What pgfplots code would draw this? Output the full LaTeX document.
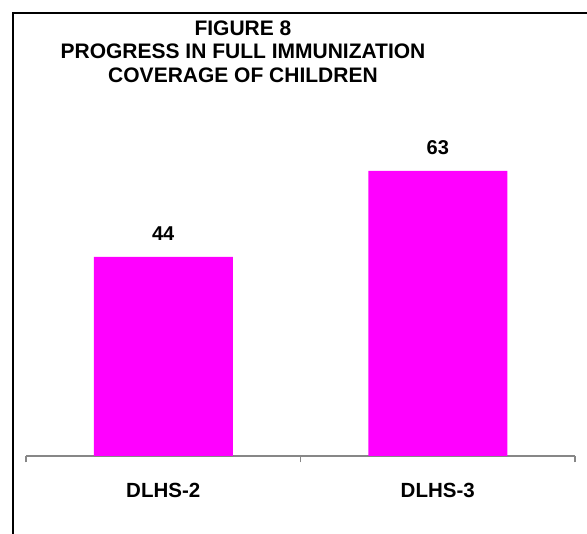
\documentclass[border=0pt]{standalone}
\usepackage{fontspec}
\setmainfont{Liberation Sans}
\usepackage{pgfplots}
\pgfplotsset{compat=1.18}
\definecolor{barmag}{HTML}{FF00FF}
\definecolor{axgray}{HTML}{878787}
\begin{document}
\begin{tikzpicture}[x=1pt,y=1pt]
\useasboundingbox (0,0) rectangle (587,534);
% chart frame
\draw[line width=2.5pt] (13.2,0) -- (13.2,520.8) -- (587,520.8);
% title
\node[anchor=base, font=\fontsize{21}{23}\selectfont\bfseries] at (243,498) {FIGURE 8};
\node[anchor=base, font=\fontsize{21}{23}\selectfont\bfseries] at (243,475) {PROGRESS IN FULL IMMUNIZATION};
\node[anchor=base, font=\fontsize{21}{23}\selectfont\bfseries] at (243,451) {COVERAGE OF CHILDREN};
\begin{axis}[
  at={(26pt,78pt)}, anchor=south west,
  scale only axis, width=549pt, height=362pt,
  xmin=-0.5, xmax=1.5, ymin=0, ymax=80,
  axis x line*=bottom, axis y line=none,
  x axis line style={-, draw=axgray, line width=1.3pt},
  xtick={0,1}, xticklabels={DLHS-2,DLHS-3},
  major tick length=0pt,
  xticklabel style={font=\fontsize{20.5}{22}\selectfont\bfseries, anchor=base, yshift=-42pt},
  extra x ticks={-0.5,0.5,1.5},
  extra x tick labels={},
  extra x tick style={major tick length=6.5pt, tick align=outside,
    tick style={draw=axgray, line width=1.3pt}},
  ytick=\empty,
  /pgf/number format/assume math mode=true,
]
\addplot[ybar, bar width=139pt, fill=barmag, draw=none,
  nodes near coords,
  nodes near coords style={font=\fontsize{20}{22}\selectfont\bfseries, anchor=base, yshift=16pt, text=black}]
  coordinates {(0,44) (1,63)};
\end{axis}
\end{tikzpicture}
\end{document}
